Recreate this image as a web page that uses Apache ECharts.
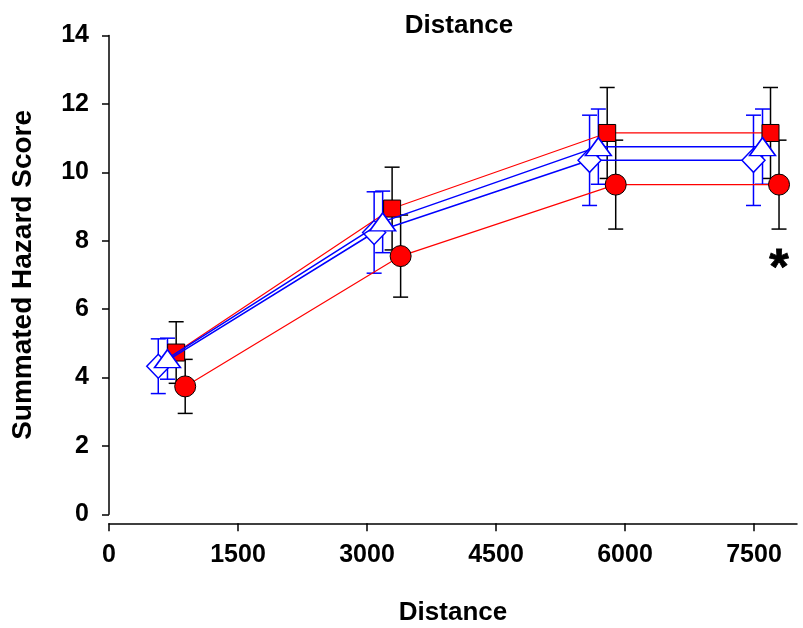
<!DOCTYPE html>
<html>
<head>
<meta charset="utf-8">
<script src="https://cdn.jsdelivr.net/npm/echarts@6/dist/echarts.min.js"></script>
<style>html,body{margin:0;padding:0;background:#fff;}#c{width:803px;height:628px;}</style>
</head>
<body>
<div id="c"></div>
<script>
// ---- data ----
const xTicks = [0, 1500, 3000, 4500, 6000, 7500];
const xSquare = [781, 3292, 5793, 7692];
const ySquare = [4.73, 8.94, 11.15, 11.15];
const eSquare = [0.9, 1.21, 1.33, 1.33];
const xCircle = [886, 3391, 5892, 7791];
const yCircle = [3.74, 7.55, 9.64, 9.64];
const eCircle = [0.79, 1.2, 1.3, 1.3];
const xTriangle = [680, 3182, 5690, 7599];
const yTriangle = [4.55, 8.55, 10.75, 10.75];
const eTriangle = [0.6, 0.9, 1.1, 1.1];
const xDiamond = [573, 3083, 5588, 7494];
const yDiamond = [4.33, 8.24, 10.35, 10.35];
const eDiamond = [0.8, 1.19, 1.32, 1.32];
const asteriskPoint = [[7791, 7.45]];

const FONT = '"Liberation Sans", Arial, sans-serif';

function pts(xs, ys) { return xs.map((x, i) => [x, ys[i]]); }
function errData(xs, ys, es) { return xs.map((x, i) => [x, ys[i] - es[i], ys[i] + es[i]]); }

function errSeries(xs, ys, es, color) {
  return {
    type: 'custom',
    data: errData(xs, ys, es),
    encode: { x: 0, y: [1, 2] },
    z: 1,
    silent: true,
    renderItem: function (params, api) {
      const x = api.value(0);
      const lo = api.coord([x, api.value(1)]);
      const hi = api.coord([x, api.value(2)]);
      const w = 7.5;
      const st = { stroke: color, lineWidth: 1.5 };
      return {
        type: 'group',
        children: [
          { type: 'line', shape: { x1: hi[0], y1: hi[1], x2: lo[0], y2: lo[1] }, style: st },
          { type: 'line', shape: { x1: hi[0] - w, y1: hi[1], x2: hi[0] + w, y2: hi[1] }, style: st },
          { type: 'line', shape: { x1: lo[0] - w, y1: lo[1], x2: lo[0] + w, y2: lo[1] }, style: st }
        ]
      };
    }
  };
}

function lineSeries(xs, ys, symbol, size, lineColor, lineWidth, fill, border, borderWidth, z) {
  return {
    type: 'line',
    data: pts(xs, ys),
    symbol: symbol,
    symbolSize: size,
    showAllSymbol: true,
    lineStyle: { color: lineColor, width: lineWidth },
    itemStyle: { color: fill, borderColor: border, borderWidth: borderWidth, opacity: 1 },
    z: z,
    silent: true,
    animation: false
  };
}

const chart = echarts.init(document.getElementById('c'), null, { renderer: 'canvas' });
chart.setOption({
  animation: false,
  backgroundColor: '#ffffff',
  title: {
    text: 'Distance',
    left: 459,
    textAlign: 'center',
    top: 13,
    padding: 0,
    textStyle: { fontFamily: FONT, fontSize: 26, fontWeight: 'bold', color: '#000' }
  },
  grid: { left: 109, right: 6, top: 35.5, bottom: 113.7, containLabel: false, outerBoundsMode: 'none' },
  xAxis: {
    type: 'value',
    min: 0,
    max: 8000,
    offset: 9,
    name: 'Distance',
    nameLocation: 'middle',
    nameGap: 77,
    nameTextStyle: { fontFamily: FONT, fontSize: 26, fontWeight: 'bold', color: '#000' },
    axisLine: { show: true, onZero: false, lineStyle: { color: '#000', width: 1.5 } },
    axisTick: { show: true, length: 8, lineStyle: { color: '#000', width: 1.5 }, customValues: xTicks },
    axisLabel: {
      fontFamily: FONT, fontSize: 25, fontWeight: 'bold', color: '#000', margin: 19,
      customValues: xTicks,
      formatter: function (v) { return String(v); }
    },
    splitLine: { show: false }
  },
  yAxis: {
    type: 'value',
    min: 0,
    max: 14,
    interval: 2,
    name: 'Summated Hazard Score',
    nameLocation: 'middle',
    nameGap: 72,
    nameTextStyle: { fontFamily: FONT, fontSize: 28, fontWeight: 'bold', color: '#000' },
    axisLine: { show: true, onZero: false, lineStyle: { color: '#000', width: 1.5 } },
    axisTick: { show: true, length: 7, lineStyle: { color: '#000', width: 1.5 } },
    axisLabel: { fontFamily: FONT, fontSize: 25, fontWeight: 'bold', color: '#000', margin: 20 },
    splitLine: { show: false }
  },
  series: [
    errSeries(xSquare, ySquare, eSquare, '#000000'),
    errSeries(xCircle, yCircle, eCircle, '#000000'),
    errSeries(xDiamond, yDiamond, eDiamond, '#0000ff'),
    errSeries(xTriangle, yTriangle, eTriangle, '#0000ff'),
    lineSeries(xSquare, ySquare, 'rect', 17, '#ff0000', 1.2, '#ff0000', '#000000', 1, 2),
    lineSeries(xCircle, yCircle, 'circle', 21, '#ff0000', 1.2, '#ff0000', '#000000', 1, 3),
    lineSeries(xDiamond, yDiamond, 'diamond', [23, 24], '#0000ff', 1.5, '#ffffff', '#0000ff', 1.5, 4),
    lineSeries(xTriangle, yTriangle, 'triangle', [26, 18], '#0000ff', 1.5, '#ffffff', '#0000ff', 1.5, 5),
    {
      type: 'scatter',
      data: asteriskPoint,
      symbol: 'circle',
      symbolSize: 0.1,
      itemStyle: { color: '#000000', opacity: 1 },
      z: 6,
      silent: true,
      label: {
        show: true,
        position: 'inside',
        formatter: '*',
        offset: [0, 11],
        fontFamily: FONT,
        fontSize: 50,
        fontWeight: 'bold',
        color: '#000000',
        opacity: 1,
        textBorderColor: '#000000',
        textBorderWidth: 0.8
      }
    }
  ]
});
</script>
</body>
</html>
